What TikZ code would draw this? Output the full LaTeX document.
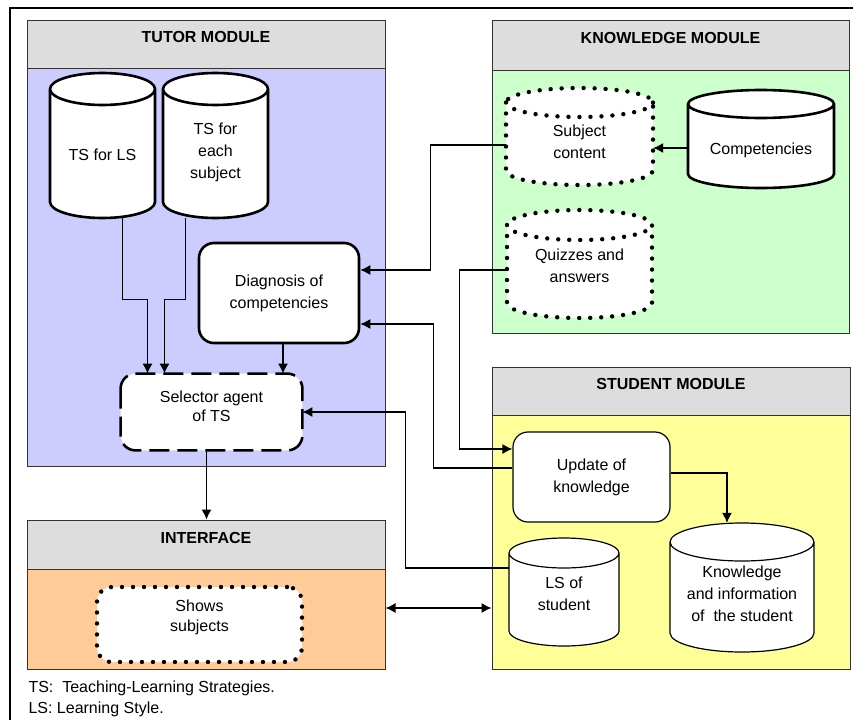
\documentclass[tikz,border=0pt]{standalone}
\usepackage{fontspec}
\setmainfont{Liberation Sans}
\usetikzlibrary{arrows.meta}
\definecolor{headgray}{HTML}{DDDDDD}
\definecolor{tutorblue}{HTML}{CCCCFF}
\definecolor{knowgreen}{HTML}{CCFFCC}
\definecolor{studyellow}{HTML}{FFFF99}
\definecolor{intorange}{HTML}{FFCC99}
\tikzset{
  modhead/.style={draw=black!80,fill=headgray,line width=1pt,inner sep=0pt,text height=11pt,text depth=14pt,font=\fontsize{16pt}{22pt}\selectfont\bfseries},
  modbody/.style={draw=black!80,line width=1pt,inner sep=0pt},
  dbbox/.style={inner sep=0pt},
  rbox/.style={draw,fill=white,rounded corners=15pt,align=center,inner sep=0pt},
  celltext/.style={inner sep=0pt,align=center},
  thickline/.style={line width=2.6pt},
  thinline/.style={line width=1.2pt},
  dotline/.style={line width=4.4pt,line cap=round,dash pattern=on 0pt off 11pt},
  arr/.style={-{Latex[length=10pt,width=10pt]},line width=1.2pt},
}
% database drum: name, line style, centre x, centre y, width, height, end radius, text offset, text
\newcommand{\dbnode}[9]{%
  \draw[#2,fill=white]({#3-#5/2},{#4-#6/2+#7}) -- ({#3-#5/2},{#4+#6/2-#7})
    arc[start angle=180,end angle=360,x radius={#5/2*1pt},y radius={#7*1pt}] -- ({#3+#5/2},{#4-#6/2+#7})
    arc[start angle=0,end angle=180,x radius={#5/2*1pt},y radius={#7*1pt}] -- cycle
    ({#3-#5/2},{#4-#6/2+#7}) arc[start angle=180,end angle=360,x radius={#5/2*1pt},y radius={#7*1pt}];
  \node[dbbox,minimum width=#5pt,minimum height=#6pt](#1)at(#3,#4){};
  \node[celltext](#1txt)at(#3,{#4+#8}){#9};
}
\begin{document}
\begin{tikzpicture}[x=1pt,y=-1pt,font=\fontsize{16pt}{22pt}\selectfont]
                      \useasboundingbox (0,0) rectangle (853,720);
                      \draw[line width=1.3pt] (10,720) -- (10,8) -- (853,8);
                      % modules
                      \node[modbody,fill=tutorblue,minimum width=358pt,minimum height=398pt](tbody)at(206,267){};
                      \node[modhead,minimum width=358pt,minimum height=48pt](thead)at(206,44){TUTOR MODULE};
                      \node[modbody,fill=knowgreen,minimum width=357pt,minimum height=263pt](kbody)at(670.5,201.5){};
                      \node[modhead,minimum width=357pt,minimum height=50pt](khead)at(670.5,45){KNOWLEDGE MODULE};
                      \node[modbody,fill=studyellow,minimum width=358pt,minimum height=254pt](sbody)at(671,542){};
                      \node[modhead,minimum width=358pt,minimum height=48pt](shead)at(671,391){STUDENT MODULE};
                      \node[modbody,fill=intorange,minimum width=358pt,minimum height=100pt](ibody)at(206,619){};
                      \node[modhead,minimum width=358pt,minimum height=49pt](ihead)at(206,544.5){INTERFACE};
                      % tutor module
                      \dbnode{tsls}{thickline}{102.5}{145.5}{105}{145}{16}{9.5}{TS for LS}
                      \dbnode{tssubj}{thickline}{215.5}{145.5}{105}{145}{16}{6.5}{TS for\\each\\subject}
                      \node[rbox,thickline,minimum width=160pt,minimum height=100pt](diag)at(279,293){Diagnosis of\\competencies};
                      \node[rbox,line width=2.8pt,draw=white,minimum width=179pt,minimum height=74pt](sel)at(211.5,412){};
                      \draw[thickline,dash pattern=on 20pt off 8pt,rounded corners=15pt](sel.north west) rectangle (sel.south east);
                      \node[celltext,font=\fontsize{16pt}{19pt}\selectfont](seltxt)at(211.5,406){Selector agent\\of TS};
                      % knowledge module
                      \dbnode{subj}{dotline}{579.5}{136.5}{147}{97}{14.5}{5}{Subject\\content}
                      \dbnode{comp}{thickline}{761}{139}{146}{98}{14}{11}{Competencies}
                      \dbnode{quiz}{dotline}{579.5}{264}{145}{108}{15}{1.5}{\fontsize{16pt}{23pt}\selectfont Quizzes and\\answers}
                      % student module
                      \node[rbox,thinline,minimum width=157pt,minimum height=90pt](upd)at(591.5,477){Update of\\knowledge};
                      \dbnode{lsstud}{thinline}{564}{592}{110}{108}{15}{1.5}{\fontsize{16pt}{23pt}\selectfont LS of\\student}
                      \dbnode{kinfo}{thinline}{742}{587.5}{144}{129}{19}{6.5}{\fontsize{16pt}{20pt}\selectfont Knowledge\\and information\\of\ \ the student}
                      % interface
                      \node[rbox,dotline,minimum width=205pt,minimum height=75pt](shows)at(199.5,624.5){};
                      \node[celltext,font=\fontsize{16pt}{20pt}\selectfont](showstxt)at(199.5,617.5){Shows\\subjects};
                      % connectors
                      \draw[arr]([xshift=20pt]tsls.south) -- ++(0,81) -| ([xshift=-64pt]sel.north);
                      \draw[arr]([xshift=-30pt]tssubj.south) -- ++(0,81) -| ([xshift=-47pt]sel.north);
                      \draw[arr]([xshift=4pt]diag.south) -- ([xshift=4pt]diag.south |- sel.north);
                      \draw[arr]([xshift=-5pt]sel.south) -- ([xshift=-5pt]sel.south |- ihead.north);
                      \draw[arr](comp.west |- 0,148) -- (subj.east |- 0,148);
                      \draw[arr](subj.west |- 0,145) -- ++(-75,0) |- ([yshift=23pt]diag.east);
                      \draw[arr](quiz.west |- 0,270) -- ++(-47,0) |- ([yshift=28pt]upd.west);
                      \draw[arr]([yshift=9pt]upd.west) -- ++(-79,0) |- ([yshift=-31pt]diag.east);
                      \draw[arr](lsstud.west |- 0,568) -- ++(-103,0) |- (sel.east);
                      \draw[arr]([yshift=4pt]upd.east) -| ([xshift=-15pt]kinfo.north);
                      \draw[arr,{Latex[length=10pt,width=10pt]}-{Latex[length=10pt,width=10pt]}]([yshift=11pt]ibody.east) -- ([yshift=11pt]ibody.east -| sbody.west);
                      % legend
                      \node[anchor=base west](lts)at(25,692){TS:\ \ Teaching-Learning Strategies.};
                      \node[anchor=base west](lls)at(25,713){LS: Learning Style.};
                  \end{tikzpicture}
\end{document}
